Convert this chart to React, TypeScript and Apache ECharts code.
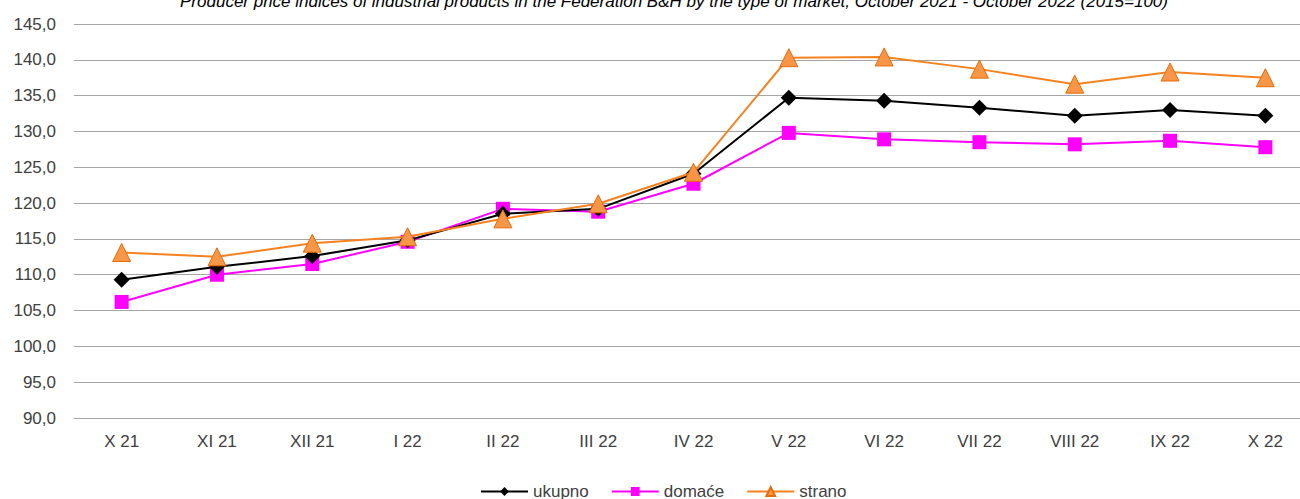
import React, { useEffect, useRef } from "react";
import * as echarts from "echarts";

const categories = ["X 21", "XI 21", "XII 21", "I 22", "II 22", "III 22", "IV 22", "V 22", "VI 22", "VII 22", "VIII 22", "IX 22", "X 22"];
const ukupno = [109.3, 111.1, 112.6, 114.8, 118.5, 119.2, 124.1, 134.7, 134.3, 133.3, 132.2, 133.0, 132.2];
const domace = [106.2, 110.0, 111.5, 114.6, 119.2, 118.8, 122.7, 129.8, 128.9, 128.5, 128.2, 128.7, 127.8];
const strano = [113.1, 112.5, 114.4, 115.3, 117.8, 119.9, 124.3, 140.3, 140.4, 138.7, 136.6, 138.3, 137.5];
const titleText = "Producer price indices of industrial products in the Federation B&H by the type of market, October 2021 - October 2022 (2015=100)";

export default function App() {
  const ref = useRef<HTMLDivElement>(null);
  useEffect(() => {
    if (!ref.current) return;
    const chart = echarts.init(ref.current, null, { renderer: "svg" });
    const font = "'Liberation Sans', Arial, sans-serif";
    chart.setOption({
      animation: false,
      backgroundColor: "#ffffff",
      textStyle: { fontFamily: font },
      title: {
        text: titleText,
        left: 669,
        textAlign: "center",
        top: -12,
        textStyle: { fontSize: 17, fontStyle: "italic", fontWeight: "normal", color: "#000", fontFamily: font },
      },
      grid: { left: 74, width: 1239, top: 24, height: 394, outerBoundsMode: "none", containLabel: false },
      legend: {
        top: 478,
        left: 475,
        itemWidth: 47,
        itemHeight: 11,
        itemGap: 22,
        textStyle: { fontSize: 17, color: "#404040", fontFamily: font },
        data: ["ukupno", "domaće", "strano"],
      },
      xAxis: {
        type: "category",
        data: categories,
        boundaryGap: true,
        axisLine: { lineStyle: { color: "#a6a6a6" } },
        axisTick: { show: false },
        axisLabel: { color: "#404040", fontSize: 17, margin: 15, fontFamily: font },
      },
      yAxis: {
        type: "value",
        min: 90,
        max: 145,
        interval: 5,
        axisLine: { show: false },
        axisTick: { show: false },
        splitLine: { lineStyle: { color: "#a6a6a6", width: 1 } },
        axisLabel: {
          color: "#404040",
          fontSize: 17,
          margin: 18,
          fontFamily: font,
          formatter: (v: number) => v.toFixed(1).replace(".", ","),
        },
      },
      series: [
        {
          name: "ukupno",
          type: "line",
          data: ukupno,
          symbol: "diamond",
          symbolSize: 16,
          lineStyle: { color: "#000000", width: 2 },
          itemStyle: { color: "#000000" },
          z: 3,
        },
        {
          name: "domaće",
          type: "line",
          data: domace,
          symbol: "rect",
          symbolSize: 14,
          lineStyle: { color: "#ff00ff", width: 2 },
          itemStyle: { color: "#ff00ff" },
          z: 2,
        },
        {
          name: "strano",
          type: "line",
          data: strano,
          symbol: "triangle",
          symbolSize: 18,
          lineStyle: { color: "#f58220", width: 2 },
          itemStyle: { color: "#f79646", borderColor: "#e46c0a", borderWidth: 1 },
          z: 4,
        },
      ],
    });
    return () => chart.dispose();
  }, []);
  return <div ref={ref} style={{ width: 1300, height: 499, position: "absolute", left: 0, top: 0 }} />;
}
